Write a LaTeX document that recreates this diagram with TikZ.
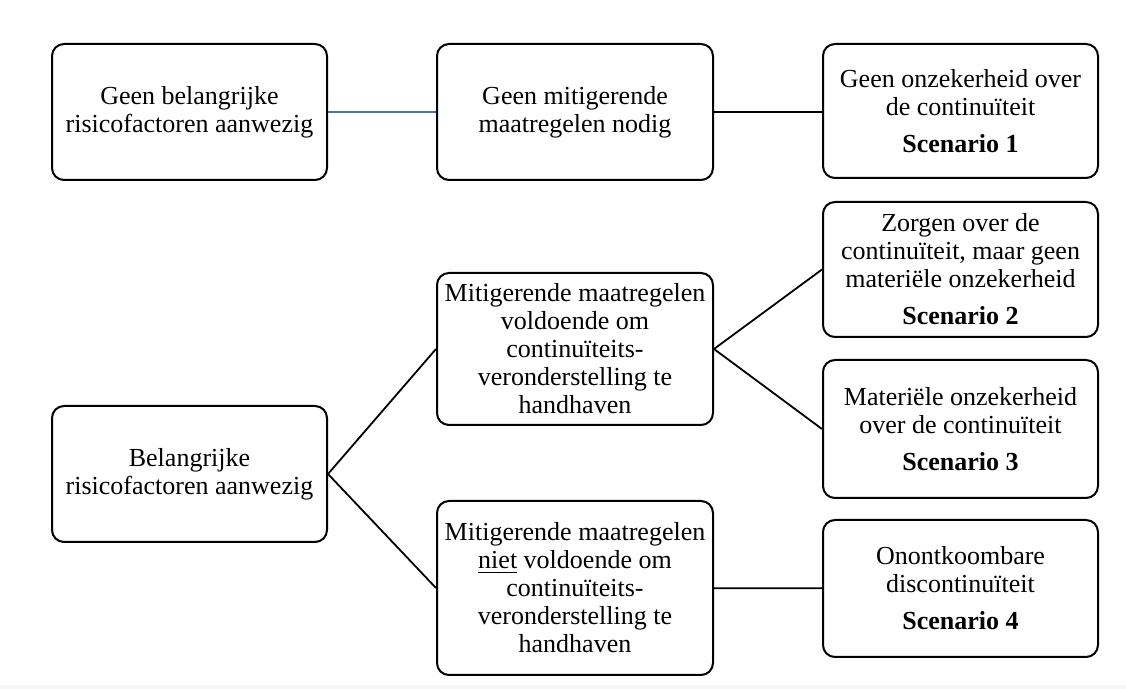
\documentclass[tikz,border=0pt]{standalone}
\usepackage{fontspec}
\setmainfont{Liberation Serif}
\usetikzlibrary{positioning}
\definecolor{linkblue}{RGB}{70,116,165}

\begin{document}
\begin{tikzpicture}[
    x=0.5pt, y=-0.5pt,
    thick,
    box node/.style={rectangle,rounded corners=6pt,draw,line width=1pt,align=center,inner xsep=2pt,inner ysep=2pt,minimum width=137.5pt,font=\fontsize{13}{14}\selectfont},
    risk node/.style={box node,minimum height=68pt},
    measure node/.style={box node,minimum width=138pt},
    scenario node/.style={box node,minimum height=68pt},
    link/.style={line width=0.9pt}
]
\useasboundingbox (0,0) rectangle (1126,689);
\fill[gray!7] (0,685) rectangle (1126,689);

\node[risk node] (norisk) at (189.5,112) {Geen belangrijke\\risicofactoren aanwezig};
\node[measure node,minimum height=68pt] (nomeasure) at (575,112) {Geen mitigerende\\maatregelen nodig};
\node[scenario node,minimum height=67pt] (scen1) at (960.5,111) {Geen onzekerheid over\\de continuïteit\\[4.5pt]\textbf{Scenario 1}};

\node[risk node] (risk) at (189.5,474) {Belangrijke\\risicofactoren aanwezig};
\node[measure node,minimum height=76pt] (enough) at (575,349) {Mitigerende maatregelen\\voldoende om\\continuïteits-\\veronderstelling te\\handhaven};
\node[measure node,minimum height=87pt] (notenough) at (575,588) {Mitigerende maatregelen\\\underline{niet} voldoende om\\continuïteits-\\veronderstelling te\\handhaven};

\node[scenario node,minimum height=67.5pt] (scen2) at (960.5,269.5) {Zorgen over de\\continuïteit, maar geen\\materiële onzekerheid\\[4.5pt]\textbf{Scenario 2}};
\node[scenario node,minimum height=69pt] (scen3) at (960.5,429) {Materiële onzekerheid\\over de continuïteit\\[4.5pt]\textbf{Scenario 3}};
\node[scenario node,minimum height=68.5pt] (scen4) at (960.5,588.5) {Onontkoombare\\discontinuïteit\\[4.5pt]\textbf{Scenario 4}};

\draw[link,linkblue,line width=0.7pt] (norisk) -- (nomeasure);
\draw[link] (nomeasure.east) -- (scen1.west |- nomeasure.east);
\draw[link] (risk.east) -- (enough.west);
\draw[link] (risk.east) -- (notenough.west);
\draw[link] (enough.east) -- (scen2.west);
\draw[link] (enough.east) -- (scen3.west);
\draw[link] (notenough) -- (scen4);

\end{tikzpicture}
\end{document}
